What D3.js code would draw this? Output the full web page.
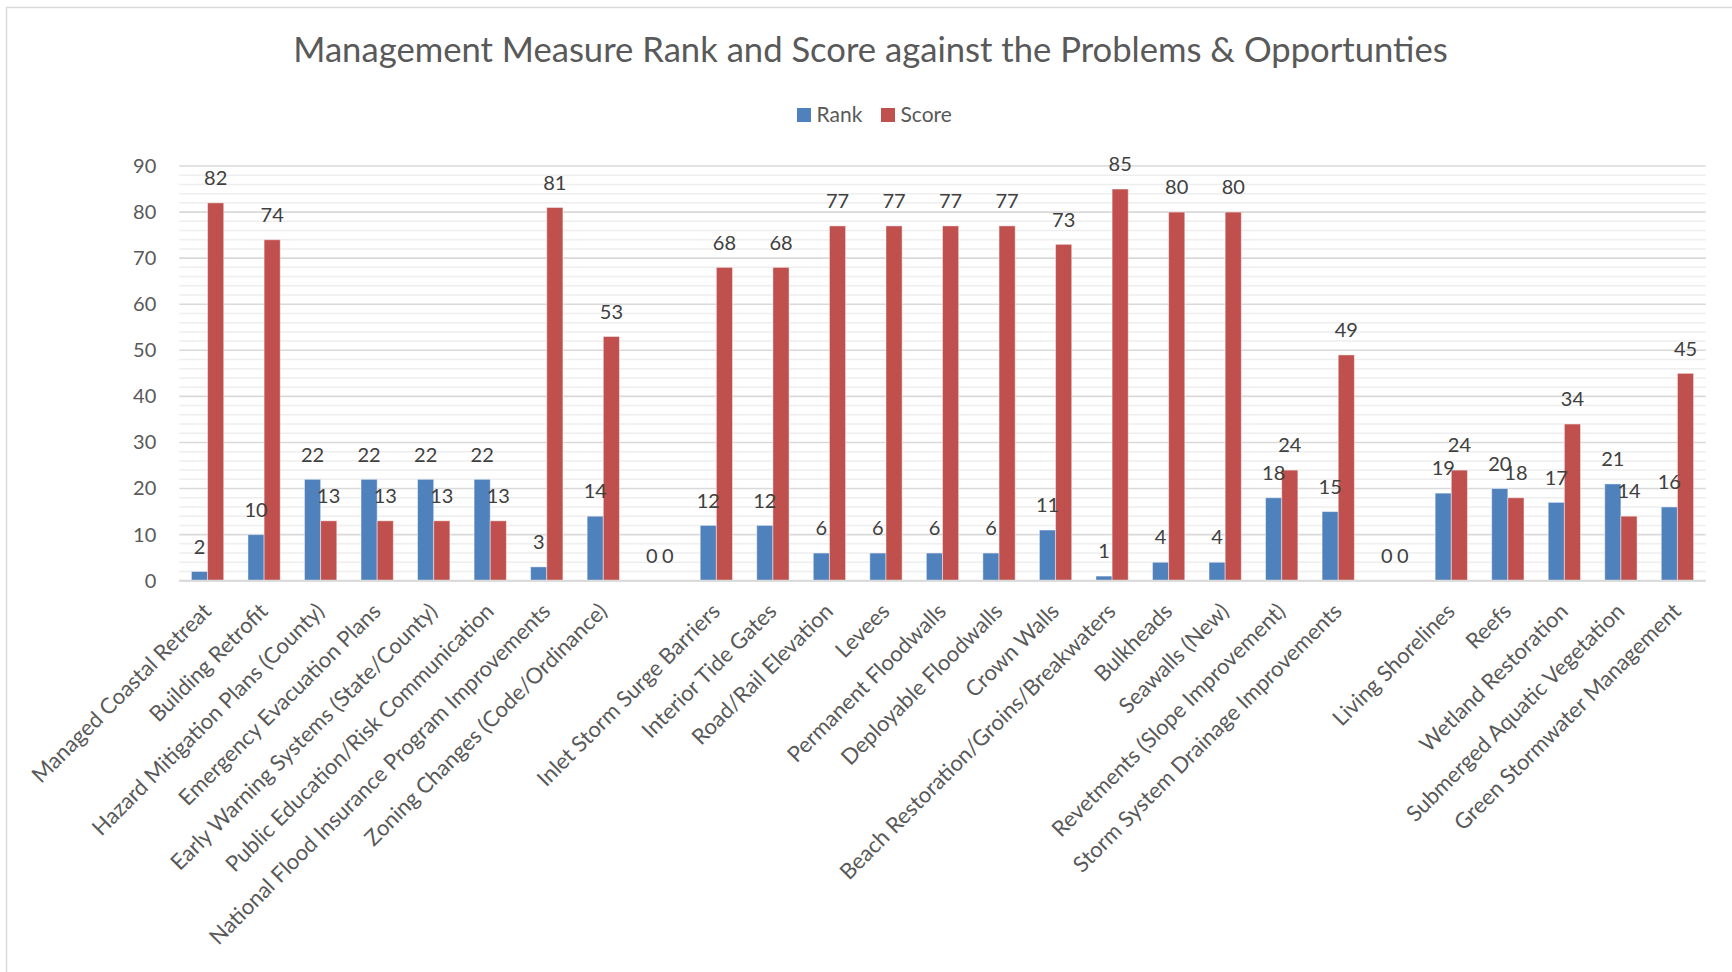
<!DOCTYPE html>
<html>
<head>
<meta charset="utf-8">
<script src="https://cdn.jsdelivr.net/npm/d3@7"></script>
<style>
  html, body { margin: 0; padding: 0; background: #ffffff; }
  svg { display: block; font-family: Lato, "Open Sans", sans-serif; }
</style>
</head>
<body>
<svg id="chart" width="1732" height="972"></svg>
<script>
// Management measures, in display order (blank entries separate the groups)
const categories = [
  "Managed Coastal Retreat",
  "Building Retrofit",
  "Hazard Mitigation Plans (County)",
  "Emergency Evacuation Plans",
  "Early Warning Systems (State/County)",
  "Public Education/Risk Communication",
  "National Flood Insurance Program Improvements",
  "Zoning Changes (Code/Ordinance)",
  "",
  "Inlet Storm Surge Barriers",
  "Interior Tide Gates",
  "Road/Rail Elevation",
  "Levees",
  "Permanent Floodwalls",
  "Deployable Floodwalls",
  "Crown Walls",
  "Beach Restoration/Groins/Breakwaters",
  "Bulkheads",
  "Seawalls (New)",
  "Revetments (Slope Improvement)",
  "Storm System Drainage Improvements",
  "",
  "Living Shorelines",
  "Reefs",
  "Wetland Restoration",
  "Submerged Aquatic Vegetation",
  "Green Stormwater Management"
];

const rankValues  = [2, 10, 22, 22, 22, 22, 3, 14, 0, 12, 12, 6, 6, 6, 6, 11, 1, 4, 4, 18, 15, 0, 19, 20, 17, 21, 16];
const scoreValues = [82, 74, 13, 13, 13, 13, 81, 53, 0, 68, 68, 77, 77, 77, 77, 73, 85, 80, 80, 24, 49, 0, 24, 18, 34, 14, 45];

const seriesNames = ["Rank", "Score"];
const seriesColors = ["#4f81bd", "#c0504d"];
const yTicks = [0, 10, 20, 30, 40, 50, 60, 70, 80, 90];

const titleText = "Management Measure Rank and Score against the Problems & Opportunties";

const svg = d3.select("#chart");
const textColor = "#595959";

// Outer chart frame
svg.append("rect")
  .attr("x", 6.5).attr("y", 7.5)
  .attr("width", 1760).attr("height", 1000)
  .attr("fill", "#ffffff")
  .attr("stroke", "#d9d9d9")
  .attr("stroke-width", 1.5);

const plot = { left: 179.3, right: 1705.7, top: 166, bottom: 580.7 };

const x = d3.scaleBand()
  .domain(d3.range(categories.length))
  .range([plot.left, plot.right])
  .paddingInner(0)
  .paddingOuter(0);

// Two bars per category, gap between groups 150% of a bar width
const groupFrac = 2 / 3.5;
const x1 = d3.scaleBand()
  .domain(seriesNames)
  .range([-x.bandwidth() * groupFrac / 2, x.bandwidth() * groupFrac / 2]);

const y = d3.scaleLinear().domain([0, 90]).range([plot.bottom, plot.top]);

// Minor gridlines every 2 units
const minor = d3.range(2, 90, 2).filter(v => v % 10 !== 0);
svg.append("g").selectAll("line").data(minor).join("line")
  .attr("x1", plot.left).attr("x2", plot.right)
  .attr("y1", d => y(d)).attr("y2", d => y(d))
  .attr("stroke", "#eeeeee").attr("stroke-width", 1.5);

// Major gridlines
svg.append("g").selectAll("line").data(yTicks).join("line")
  .attr("x1", plot.left).attr("x2", plot.right)
  .attr("y1", d => y(d)).attr("y2", d => y(d))
  .attr("stroke", "#d9d9d9").attr("stroke-width", 1.6);

// Y axis labels
const yAxis = svg.append("g")
  .attr("transform", `translate(${plot.left},0)`)
  .call(d3.axisLeft(y).tickValues(yTicks).tickSize(0).tickPadding(23));
yAxis.select(".domain").remove();
yAxis.selectAll("text")
  .attr("fill", textColor)
  .style("font-family", "Lato")
  .style("font-size", "20px");

// Bars
const rows = categories.map((c, i) => ({ i, values: [rankValues[i], scoreValues[i]] }));

const groups = svg.append("g").selectAll("g").data(rows).join("g")
  .attr("transform", d => `translate(${x(d.i) + x.bandwidth() / 2},0)`);

groups.selectAll("rect")
  .data(d => d.values.map((v, k) => ({ k, v })))
  .join("rect")
  .attr("x", d => x1(seriesNames[d.k]))
  .attr("width", x1.bandwidth())
  .attr("y", d => y(d.v))
  .attr("height", d => y(0) - y(d.v))
  .attr("fill", d => seriesColors[d.k])
  .attr("stroke", "#ffffff")
  .attr("stroke-opacity", 0.45)
  .attr("stroke-width", 1);

// Value labels above each bar
groups.selectAll("text")
  .data(d => d.values.map((v, k) => ({ k, v })))
  .join("text")
  .attr("x", d => x1(seriesNames[d.k]) + x1.bandwidth() / 2)
  .attr("y", d => y(d.v) - 25)
  .attr("dy", "0.36em")
  .attr("text-anchor", "middle")
  .attr("fill", "#404040")
  .style("font-size", "20px")
  .text(d => d.v);

// Category axis with rotated labels
const xAxis = svg.append("g")
  .attr("transform", `translate(0,${plot.bottom})`)
  .call(d3.axisBottom(x).tickSize(0).tickFormat(i => categories[i]));
xAxis.select(".domain").remove();
xAxis.selectAll("text")
  .attr("x", 0).attr("y", 0).attr("dy", 0)
  .attr("text-anchor", "end")
  .attr("transform", "translate(5,32) rotate(-45)")
  .attr("fill", textColor)
  .style("font-family", "Lato")
  .style("font-size", "22px");

// Axis baseline
svg.append("line")
  .attr("x1", plot.left).attr("x2", plot.right)
  .attr("y1", y(0)).attr("y2", y(0))
  .attr("stroke", "#d9d9d9").attr("stroke-width", 2);

// Title, sized to span its measured width
const title = svg.append("text")
  .attr("x", 870.5).attr("y", 62.3)
  .attr("text-anchor", "middle")
  .attr("fill", textColor)
  .style("font-size", "32px")
  .text(titleText);
const tw = title.node().getComputedTextLength();
title.style("font-size", (32 * 1155 / tw).toFixed(2) + "px");

// Legend
const legendItems = [
  { name: "Rank", color: seriesColors[0], sx: 797, tx: 816.5 },
  { name: "Score", color: seriesColors[1], sx: 881, tx: 900.5 }
];
const legend = svg.append("g");
legend.selectAll("rect").data(legendItems).join("rect")
  .attr("x", d => d.sx).attr("y", 108)
  .attr("width", 14).attr("height", 14)
  .attr("fill", d => d.color);
legend.selectAll("text").data(legendItems).join("text")
  .attr("x", d => d.tx).attr("y", 122)
  .attr("fill", textColor)
  .style("font-size", "21px")
  .text(d => d.name);
</script>
</body>
</html>
